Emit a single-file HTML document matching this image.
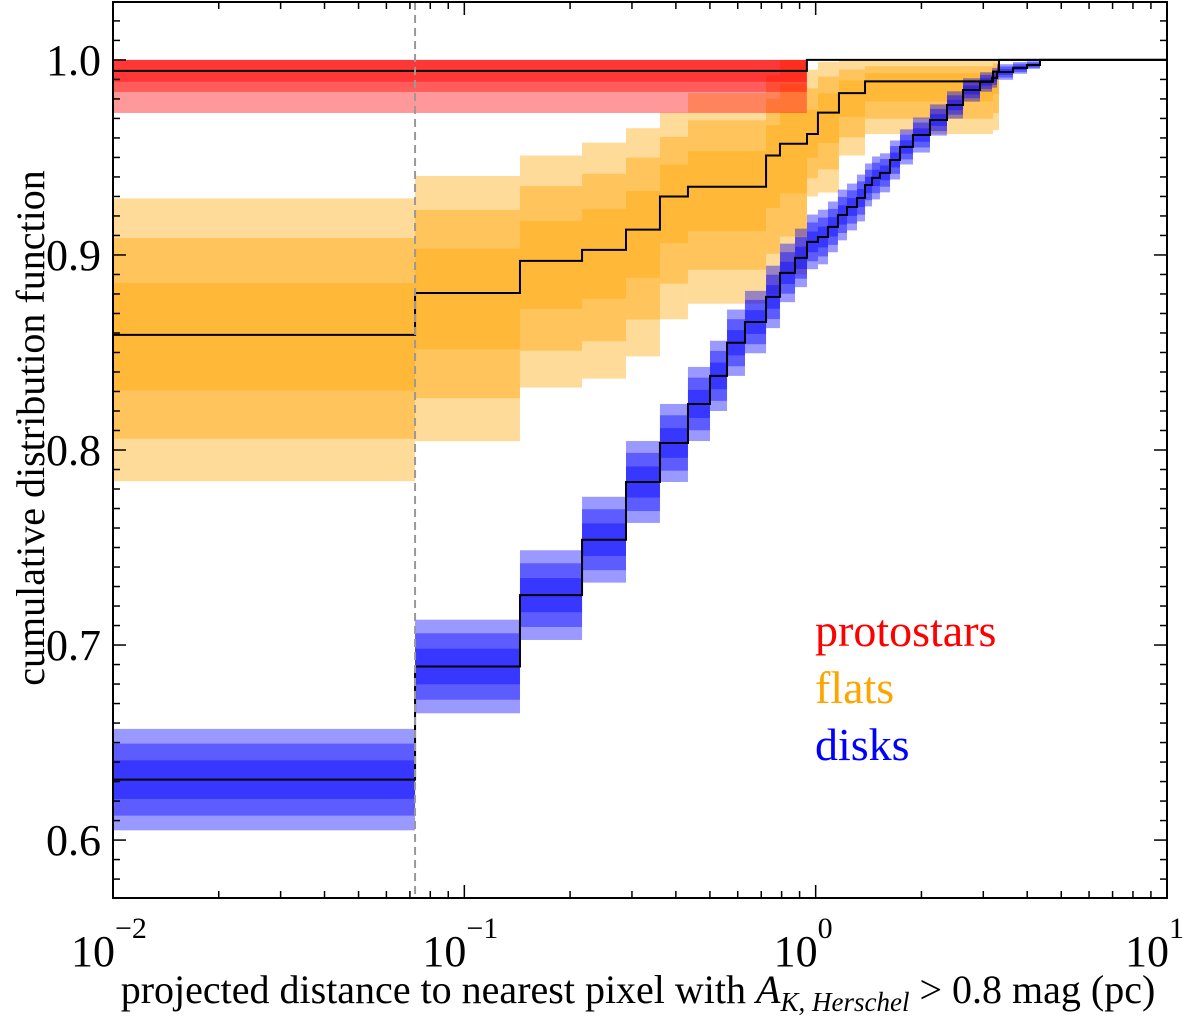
<!DOCTYPE html>
<html><head><meta charset="utf-8"><style>
html,body{margin:0;padding:0;background:#fff;}
svg{display:block;}
text{font-family:"Liberation Serif",serif;}
</style></head><body>
<svg id="chart" width="1200" height="1018" viewBox="0 0 1200 1018" xmlns="http://www.w3.org/2000/svg" font-family="Liberation Serif, serif">
<g id="bands"></g>
<g id="lines"></g>
<g id="axes"></g>
<text x="815" y="646" font-size="46" fill="#ff0000">protostars</text>
<text x="815" y="703" font-size="46" fill="#ffa500">flats</text>
<text x="815" y="760" font-size="46" fill="#0000ff">disks</text>
<text x="638" y="1003" font-size="40" text-anchor="middle">projected distance to nearest pixel with <tspan font-style="italic">A</tspan><tspan font-style="italic" font-size="27" dy="8">K, Herschel</tspan><tspan dy="-8"> &gt; 0.8 mag (pc)</tspan></text>
<text transform="translate(44,428) rotate(-90)" font-size="40" text-anchor="middle">cumulative distribution function</text>
</svg>
<script>
// ---- data ----
const protoX = [0.01, 0.944];
const protoY = [0.9944, 1.0];
const protoLo = [0.0216, 0];
const protoHi = [0.0216, 0];

const flatX = [0.01, 0.0724, 0.144, 0.2163, 0.2885, 0.3604, 0.433, 0.7224, 0.7914, 0.9448, 1.015, 1.165, 1.382, 3.197, 3.325];
const flatY = [0.859, 0.8805, 0.897, 0.9026, 0.913, 0.930, 0.935, 0.951, 0.957, 0.962, 0.973, 0.983, 0.989, 0.994, 1.0];
const flatLo = [0.075, 0.076, 0.065, 0.066, 0.065, 0.063, 0.060, 0.071, 0.067, 0.032, 0.041, 0.032, 0.027, 0.030, 0];
const flatHi = [0.070, 0.060, 0.054, 0.055, 0.052, 0.043, 0.048, 0.041, 0.043, 0.033, 0.026, 0.017, 0.011, 0.006, 0];

const diskX = [0.01, 0.0724, 0.144, 0.2163, 0.2885, 0.3604, 0.433, 0.5003, 0.5594, 0.6292, 0.7224, 0.7914, 0.8733, 0.9448, 1.015, 1.084, 1.157, 1.228, 1.311, 1.382, 1.447, 1.524, 1.628, 1.738, 1.892, 2.115, 2.365, 2.627, 2.936, 3.177, 3.282, 3.646, 3.996, 4.351];
const diskY = [0.631, 0.689, 0.7256, 0.754, 0.7836, 0.8036, 0.8236, 0.838, 0.855, 0.8656, 0.8785, 0.8908, 0.8985, 0.9067, 0.9092, 0.9144, 0.9205, 0.9246, 0.9292, 0.9359, 0.9395, 0.9421, 0.9487, 0.9554, 0.9615, 0.9692, 0.9769, 0.9846, 0.9887, 0.9908, 0.9938, 0.9959, 0.9974, 1.0];
const diskSig = [0.026, 0.024, 0.023, 0.022, 0.021, 0.020, 0.019, 0.018, 0.017, 0.016, 0.016, 0.015, 0.015, 0.014, 0.014, 0.013, 0.013, 0.012, 0.012, 0.011, 0.011, 0.010, 0.010, 0.009, 0.009, 0.008, 0.007, 0.006, 0.005, 0.005, 0.004, 0.003, 0.002, 0];

const yTicks = [0.6, 0.7, 0.8, 0.9, 1.0];
const yTickLabels = ["0.6", "0.7", "0.8", "0.9", "1.0"];
const xDecades = [-2, -1, 0, 1];
const xDecadeLabels = ["\u22122", "\u22121", "0", "1"];

// ---- axes functions ----
const L = 113, R = 1167, T = 2, B = 898;
const X0 = -2, X1 = 1, Y0 = 0.5703, Y1 = 1.0297;
function sx(v){ return L + (Math.log10(v) - X0) / (X1 - X0) * (R - L); }
function sy(v){ return B - (v - Y0) / (Y1 - Y0) * (B - T); }
const NS = 'http://www.w3.org/2000/svg';
function mk(tag, attrs, parent){
  const e = document.createElementNS(NS, tag);
  for (const k in attrs) e.setAttribute(k, attrs[k]);
  parent.appendChild(e);
  return e;
}
const bands = document.getElementById('bands');
const lines = document.getElementById('lines');
const axes = document.getElementById('axes');
const fracs = [1, 0.71, 0.38];

function drawBands(xs, ys, lo, hi, color, name, fr){
  for (let i = 0; i < xs.length; i++) {
    const xa = sx(xs[i]);
    const xb = i + 1 < xs.length ? sx(xs[i+1]) : R;
    if (lo[i] === 0 && hi[i] === 0) continue;
    for (let k = 0; k < fr.length; k++) {
      const top = Math.min(1, ys[i] + hi[i] * fr[k]);
      const bot = ys[i] - lo[i] * fr[k];
      const r = mk('rect', {x: xa, y: sy(top), width: xb - xa, height: sy(bot) - sy(top), fill: color, 'fill-opacity': 0.4}, bands);
      
      
    }
  }
}
function drawLine(xs, ys, name){
  let d = '';
  for (let i = 0; i < xs.length; i++) {
    const xa = sx(xs[i]);
    const xb = i + 1 < xs.length ? sx(xs[i+1]) : R;
    d += (i === 0 ? 'M' : 'L') + xa + ',' + sy(ys[i]) + 'L' + xb + ',' + sy(ys[i]);
  }
  const p = mk('path', {d: d, fill: 'none', stroke: '#000', 'stroke-width': 2}, lines);
  
  
}
drawBands(flatX, flatY, flatLo, flatHi, '#ffa500', 'flats', fracs);
drawBands(diskX, diskY, diskSig, diskSig, '#0000ff', 'disks', fracs);
drawBands(protoX, protoY, protoLo, protoHi, '#ff0000', 'protostars', [1, 0.5, 0.26]);
drawLine(flatX, flatY, 'flats');
drawLine(diskX, diskY, 'disks');
drawLine(protoX, protoY, 'protostars');

const dl = mk('line', {x1: sx(0.0724), x2: sx(0.0724), y1: T, y2: B, stroke: '#999', 'stroke-width': 2, 'stroke-dasharray': '8,5'}, lines);



const fr = mk('rect', {x: L, y: T, width: R - L, height: B - T, fill: 'none', stroke: '#000', 'stroke-width': 2}, axes);



for (let v = 0.58; v <= 1.03; v += 0.01) {
  const vv = Math.round(v * 100) / 100;
  const major = Math.abs(vv * 10 - Math.round(vv * 10)) < 1e-6;
  const len = major ? 13 : 7;
  const y = sy(vv);
  mk('line', {x1: L, x2: L + len, y1: y, y2: y, stroke: '#000', 'stroke-width': 1.5}, axes);
  mk('line', {x1: R, x2: R - len, y1: y, y2: y, stroke: '#000', 'stroke-width': 1.5}, axes);
}
for (let i = 0; i < yTicks.length; i++) {
  const t = mk('text', {x: L - 12, y: sy(yTicks[i]) + 15, 'font-size': 44, 'text-anchor': 'end', 'font-family': 'Liberation Serif, serif'}, axes);
  
  
  t.textContent = yTickLabels[i];
}
for (let d = -2; d < 1; d++) {
  for (let m = 1; m <= 9; m++) {
    const x = sx(m * Math.pow(10, d));
    const len = m === 1 ? 13 : 7;
    mk('line', {x1: x, x2: x, y1: B, y2: B - len, stroke: '#000', 'stroke-width': 1.5}, axes);
    mk('line', {x1: x, x2: x, y1: T, y2: T + len, stroke: '#000', 'stroke-width': 1.5}, axes);
  }
}
for (let i = 0; i < xDecades.length; i++) {
  const x = sx(Math.pow(10, xDecades[i]));
  const t = mk('text', {x: x + 2, y: 966, 'font-size': 44, 'text-anchor': 'end', 'font-family': 'Liberation Serif, serif'}, axes);
  
  
  t.textContent = '10';
  const s = mk('text', {x: x + 2, y: 938, 'font-size': 30, 'text-anchor': 'start', 'font-family': 'Liberation Serif, serif'}, axes);
  
  
  s.textContent = xDecadeLabels[i];
}
</script>
</body></html>
